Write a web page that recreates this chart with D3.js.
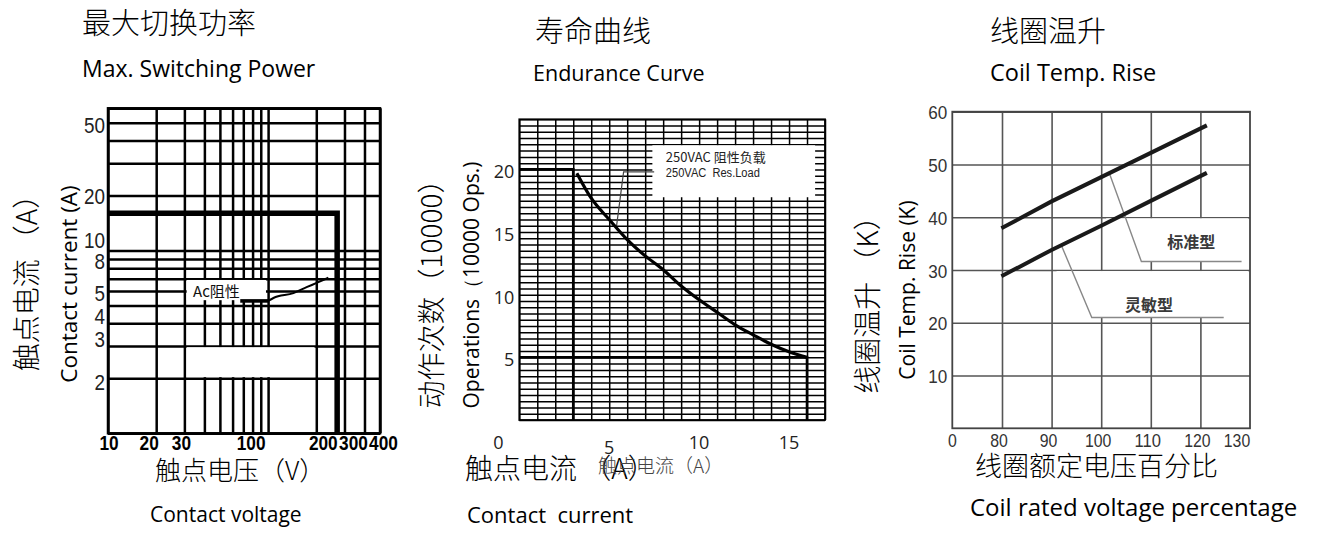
<!DOCTYPE html>
<html>
<head>
<meta charset="utf-8">
<script src="https://cdn.jsdelivr.net/npm/d3@7"></script>
<style>
  html, body { margin: 0; padding: 0; background: #fff; }
  svg { display: block; }
</style>
</head>
<body>
<svg id="chart" width="1320" height="553"></svg>
<script>
// ---- panel 1: max switching power (log / log)
const p1VoltTicks = [10, 20, 30, 100, 200, 300, 400];
const p1CurrTicks = [50, 20, 10, 8, 5, 4, 3, 2];
const p1Limit = [[10, 16], [270, 16], [270, 1]];
const p1AcFlat = [[67, 5.3], [100, 5.3]];
const p1AcRise = [[100, 5.3], [108, 5.5], [144, 5.85], [174, 6.3], [201, 6.65], [238, 7.1]];

// ---- panel 2: endurance curve
const p2CurrTicks = [0, 5, 10, 15];
const p2OpsTicks = [5, 10, 15, 20];
const p2Curve = [[3.2, 19.7], [4, 17.7], [5, 16], [6, 14.4], [7, 13.1], [8, 12], [9, 10.7],
                 [10, 9.6], [11, 8.6], [12, 7.6], [13, 6.8], [14, 6.05], [15, 5.45], [16, 5]];
const p2Upper = [[0, 20], [3, 20], [3, 0]];
const p2Lower = [[0, 5], [16, 5], [16, 0]];
const p2Leader = [[7.5, 19.8], [5.8, 19.8], [5.4, 15.4]];

// ---- panel 3: coil temperature rise
const p3VoltTicks = [0, 80, 90, 100, 110, 120, 130];
const p3TempTicks = [10, 20, 30, 40, 50, 60];
const p3Volt = [79, 90, 100, 110, 121.3];
const p3Standard = [37.9, 43, 47.6, 52.2, 57.4];
const p3Sensitive = [28.8, 33.8, 38.4, 43.1, 48.4];
const p3StdLeader = [[101.7, 48.2], [108.1, 31.6], [128.3, 31.6]];
const p3SenLeader = [[92, 34.6], [98.1, 21], [124.7, 21]];

const CJK = '"Noto Sans CJK SC", sans-serif';
const LAT = '"Open Sans", "Noto Sans", sans-serif';
const NUM = '"Liberation Sans", Arial, sans-serif';

const svg = d3.select("#chart");

function text(g, x, y, s, font, size, opts) {
    opts = opts || {};
    const t = g.append("text")
            .attr("x", x).attr("y", y)
            .attr("font-family", font)
            .attr("font-size", size)
            .attr("fill", opts.fill || "#000")
            .attr("text-anchor", opts.anchor || "start")
            .text(s);
    if (opts.rotate) {
        t.attr("transform", `rotate(-90,${x},${y})`)
         .attr("dominant-baseline", "central");
    }
    if (opts.weight) t.attr("font-weight", opts.weight);
    if (opts.central) t.attr("dominant-baseline", "central");
    if (opts.len) t.attr("textLength", opts.len).attr("lengthAdjust", "spacingAndGlyphs");
    return t;
}

function grid(g, x, y, xVals, yVals, w, h, color, sw) {
    g.append("g").attr("transform", `translate(0,${h})`)
        .call(d3.axisBottom(x).tickValues(xVals).tickSize(h).tickSizeOuter(0).tickFormat(""))
        .call(a => a.select(".domain").remove())
        .call(a => a.selectAll(".tick line").attr("y2", -h));
    g.append("g")
        .call(d3.axisLeft(y).tickValues(yVals).tickSize(-w).tickSizeOuter(0).tickFormat(""))
        .call(a => a.select(".domain").remove());
    g.selectAll(".tick line").attr("stroke", color).attr("stroke-width", sw);
}

function path(g, pts, x, y, sw, color, curve) {
    const line = d3.line().x(d => x(d[0])).y(d => y(d[1]));
    if (curve) line.curve(curve);
    return g.append("path").datum(pts)
            .attr("d", line)
            .attr("fill", "none")
            .attr("stroke", color || "#000")
            .attr("stroke-width", sw)
            .attr("stroke-linejoin", "miter");
}

function whiteBox(g, x, y, x0, x1, y0, y1) {
    g.append("rect")
        .attr("x", x(x0)).attr("y", y(y0))
        .attr("width", x(x1) - x(x0))
        .attr("height", y(y1) - y(y0))
        .attr("fill", "#fff");
}

// ================= panel 1
(function() {
    const left = 108, top = 108.3, w = 272, h = 325;
    const x = d3.scaleLog().domain([10, 500]).range([0, w]);
    const y = d3.scaleLog().domain([1, 60]).range([h, 0]);
    const g = svg.append("g").attr("transform", `translate(${left},${top})`);

    grid(g, x, y, x.ticks(), y.ticks(), w, h, "#000", 2.5);
    g.append("rect").attr("width", w).attr("height", h)
        .attr("fill", "none").attr("stroke", "#000").attr("stroke-width", 2.5);

    // blank areas of the printed grid
    whiteBox(g, x, y, 31, 97, 6.9, 5.35);
    whiteBox(g, x, y, 31, 195, 2.96, 2.03);

    path(g, p1Limit, x, y, 5.5);
    path(g, p1AcFlat, x, y, 3.6);
    path(g, p1AcRise, x, y, 2, "#000", d3.curveMonotoneX);
    text(g, x(34), y(6.05), "Ac阻性", CJK, 15, {central: true, fill: "#111"});

    const yShift = {50: 3, 20: 1, 10: -10, 8: -7, 5: -12, 4: -7, 3: -7, 2: 4};
    p1CurrTicks.forEach(v => {
        text(svg, left - 3, top + y(v) + yShift[v], v, NUM, 22,
             {anchor: "end", central: true, fill: "#222", len: String(v).length * 10.5});
    });
    const xShift = {10: 1, 20: -7, 30: -3, 100: -17, 200: 7, 300: 9, 400: 19};
    p1VoltTicks.forEach(v => {
        text(svg, left + x(v) + xShift[v], 443, v, NUM, 20,
             {anchor: "middle", central: true, weight: "bold", len: String(v).length * 9.6});
    });

    text(svg, 82, 34, "最大切换功率", CJK, 29, {weight: 300});
    text(svg, 82, 77, "Max. Switching Power", LAT, 23);
    text(svg, 25, 276, "触点电流\u00a0（A）", CJK, 28, {anchor: "middle", rotate: true, weight: 300});
    text(svg, 68, 284, "Contact current (A)", LAT, 22.5, {anchor: "middle", rotate: true});
    text(svg, 155, 480, "触点电压（V）", CJK, 26, {weight: 300});
    text(svg, 150, 522, "Contact voltage", LAT, 21);
})();

// ================= panel 2
(function() {
    const left = 519.3, top = 119.3, w = 305.7, h = 300.7;
    const x = d3.scaleLinear().domain([0, 17]).range([0, w]);
    const y = d3.scaleLinear().domain([0, 24]).range([h, 0]);
    const g = svg.append("g").attr("transform", `translate(${left},${top})`);

    grid(g, x, y, x.ticks(17), y.ticks(48), w, h, "#000", 1.5);
    g.append("rect").attr("width", w).attr("height", h)
        .attr("fill", "none").attr("stroke", "#000").attr("stroke-width", 1.8);

    whiteBox(g, x, y, 7.4, 16.45, 21.93, 17.78);
    text(g, x(8.15), y(21.07), "250VAC 阻性负载", CJK, 13, {central: true, fill: "#222"});
    text(g, x(8.15), y(19.74), "250VAC\u00a0\u00a0Res.Load", NUM, 12.5,
         {central: true, fill: "#222", len: 94});
    path(g, p2Leader, x, y, 1.2, "#444");

    path(g, p2Upper, x, y, 2.6);
    path(g, p2Lower, x, y, 2.6);
    path(g, p2Curve, x, y, 3.2, "#000", d3.curveMonotoneX);

    p2OpsTicks.forEach(v => {
        text(svg, left - 5, top + y(v) + 2, v, LAT, 18, {anchor: "end", central: true, fill: "#222"});
    });
    p2CurrTicks.forEach(v => {
        const dx = v === 0 ? -21 : 0;
        const dy = v === 5 ? 5 : 0;
        text(svg, left + x(v) + dx, 442 + dy, v, LAT, 18, {anchor: "middle", central: true, fill: "#222"});
    });

    text(svg, 535, 42, "寿命曲线", CJK, 29, {weight: 300});
    text(svg, 533, 81, "Endurance Curve", LAT, 21.5);
    text(svg, 430, 287, "动作次数（10000）", CJK, 28, {anchor: "middle", rotate: true, weight: 300});
    text(svg, 471, 285, "Operations（10000 Ops.)", LAT, 21, {anchor: "middle", rotate: true});
    text(svg, 465, 479, "触点电流\u00a0（A）", CJK, 28, {weight: 300});
    text(svg, 598, 473, "触点电流（A）", CJK, 19, {fill: "#444", weight: 300});
    text(svg, 467, 523, "Contact\u00a0\u00a0current", LAT, 22);
})();

// ================= panel 3
(function() {
    const left = 952.3, top = 111.7, w = 297.7, h = 316.6;
    const x = d3.scaleLinear().domain([0, 80, 130]).range([0, 49.7, w]);
    const y = d3.scaleLinear().domain([0, 60]).range([h, 0]);
    const g = svg.append("g").attr("transform", `translate(${left},${top})`);

    grid(g, x, y, p3VoltTicks.slice(1, -1), p3TempTicks, w, h, "#555", 1.6);
    g.append("rect").attr("width", w).attr("height", h)
        .attr("fill", "none").attr("stroke", "#444").attr("stroke-width", 1.8);

    whiteBox(g, x, y, 101, 129.6, 39.8, 31.6);
    whiteBox(g, x, y, 91, 129.6, 29.8, 21);

    path(g, p3StdLeader, x, y, 1.4, "#888");
    path(g, p3SenLeader, x, y, 1.4, "#888");
    text(g, x(113.3), y(35.5), "标准型", CJK, 16, {central: true, fill: "#3a3a3a", weight: "bold"});
    text(g, x(104.8), y(23.6), "灵敏型", CJK, 16, {central: true, fill: "#3a3a3a", weight: "bold"});

    const pairs = s => p3Volt.map((v, i) => [v, s[i]]);
    path(g, pairs(p3Standard), x, y, 4, "#1a1a1a");
    path(g, pairs(p3Sensitive), x, y, 4, "#1a1a1a");

    p3TempTicks.forEach(v => {
        text(svg, left - 5, top + y(v) + 1, v, NUM, 19,
             {anchor: "end", central: true, fill: "#333", len: String(v).length * 9.5});
    });
    p3VoltTicks.forEach(v => {
        const dx = v === 0 ? 0 : (v === 130 ? -13 : -3);
        text(svg, left + x(v) + dx, 441, v, NUM, 18,
             {anchor: "middle", central: true, fill: "#333", len: String(v).length * 8.8});
    });

    text(svg, 990, 42, "线圈温升", CJK, 29, {weight: 300});
    text(svg, 990, 81, "Coil Temp. Rise", LAT, 23.5);
    text(svg, 866, 298, "线圈温升\u00a0（K）", CJK, 28, {anchor: "middle", rotate: true, weight: 300});
    text(svg, 907, 290, "Coil Temp. Rise (K)", LAT, 21, {anchor: "middle", rotate: true});
    text(svg, 975, 476, "线圈额定电压百分比", CJK, 27, {weight: 300});
    text(svg, 970, 516, "Coil rated voltage percentage", LAT, 24);
})();
</script>
</body>
</html>
